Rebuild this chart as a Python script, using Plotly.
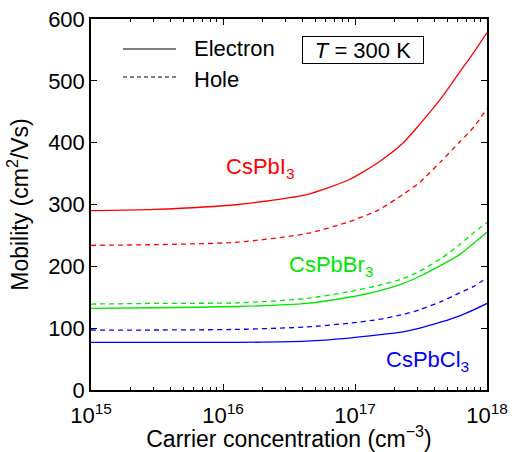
import plotly.graph_objects as go

# Carrier concentration (cm^-3)
conc = [1e15, 3e15, 1.3e16, 4.3e16, 9e16, 1.5e17, 2.3e17, 3.1e17, 4.5e17, 6.2e17, 8e17, 1e18]

# Mobility (cm^2/Vs)
cspbi3_electron = [290, 292, 300, 316, 340, 368, 399, 430, 472, 514, 547, 578]
cspbi3_hole = [234, 235, 239, 253, 272, 291, 316, 336, 370, 401, 426, 455]
cspbbr3_electron = [132, 133, 135, 140, 150, 160, 172, 184, 202, 219, 238, 255]
cspbbr3_hole = [139, 140, 141, 148, 159, 169, 180, 192, 213, 235, 255, 271]
cspbcl3_electron = [77, 77, 77, 79, 84, 89, 94, 100, 110, 120, 130, 140]
cspbcl3_hole = [97, 97, 98, 102, 108, 114, 122, 130, 143, 157, 168, 182]

x_tickvals = [1e15, 1e16, 1e17, 1e18]
x_ticktext = ["10<sup>15</sup>", "10<sup>16</sup>", "10<sup>17</sup>", "10<sup>18</sup>"]
y_tickvals = [0, 100, 200, 300, 400, 500, 600]

RED = "#ff0000"
GREEN = "#00e600"
BLUE = "#0000ff"
DASH = "5px,4px"
FONT = "Liberation Sans, Arial, sans-serif"

series = [
    (cspbi3_electron, RED, "solid"),
    (cspbi3_hole, RED, DASH),
    (cspbbr3_electron, GREEN, "solid"),
    (cspbbr3_hole, GREEN, DASH),
    (cspbcl3_electron, BLUE, "solid"),
    (cspbcl3_hole, BLUE, DASH),
]

fig = go.Figure()
for ys, col, dash in series:
    fig.add_trace(go.Scatter(
        x=conc, y=ys, mode="lines",
        line=dict(color=col, width=1.3, dash=dash, shape="spline", smoothing=0.6),
        showlegend=False, hoverinfo="skip",
    ))

minor_vals = [m * 10 ** e for e in (15, 16, 17) for m in range(2, 10)]

fig.update_xaxes(
    type="log", range=[15, 18], automargin=False,
    tickmode="array", tickvals=x_tickvals, ticktext=x_ticktext,
    ticks="inside", ticklen=6, tickwidth=1, tickcolor="black",
    ticklabelstandoff=5,
    minor=dict(ticks="inside", ticklen=3, tickwidth=1, tickcolor="black",
               tickmode="array", tickvals=minor_vals),
    showline=True, linecolor="black", linewidth=1.5, mirror="allticks",
    showgrid=False, zeroline=False,
    tickfont=dict(family=FONT, size=22, color="black"),
    title=dict(text="Carrier concentration (cm<sup>\u22123</sup>)",
               font=dict(family=FONT, size=23, color="black"), standoff=4),
)
fig.update_yaxes(
    range=[0, 600], tickmode="array", tickvals=y_tickvals, automargin=False,
    ticks="inside", ticklen=6, tickwidth=1, tickcolor="black",
    showline=True, linecolor="black", linewidth=1.5, mirror="allticks",
    showgrid=False, zeroline=False,
    tickfont=dict(family=FONT, size=22, color="black"),
    title=dict(text="Mobility (cm<sup>2</sup>/Vs)",
               font=dict(family=FONT, size=23, color="black"), standoff=13),
)

# Legend lines (decoration) and text; positions relative to plot area
PX0, PY0, PW, PH = 91, 390, 396, 371
fig.add_shape(type="line", xref="paper", yref="paper",
              x0=(123 - PX0) / PW, x1=(176 - PX0) / PW,
              y0=(PY0 - 49) / PH, y1=(PY0 - 49) / PH,
              line=dict(color="black", width=1.2))
fig.add_shape(type="line", xref="paper", yref="paper",
              x0=(123 - PX0) / PW, x1=(176 - PX0) / PW,
              y0=(PY0 - 77) / PH, y1=(PY0 - 77) / PH,
              line=dict(color="black", width=1.2, dash="4px,3px"))

ann_font = dict(family=FONT, size=22, color="black")
fig.add_annotation(xref="paper", yref="paper", x=(192 - PX0) / PW, y=(PY0 - 49) / PH,
                   text="Electron", showarrow=False, xanchor="left", yanchor="middle",
                   font=ann_font)
fig.add_annotation(xref="paper", yref="paper", x=(192 - PX0) / PW, y=(PY0 - 79) / PH,
                   text="Hole", showarrow=False, xanchor="left", yanchor="middle",
                   font=ann_font)
fig.add_annotation(xref="paper", yref="paper", x=(363 - PX0) / PW, y=(PY0 - 50) / PH,
                   text="<i>T</i> = 300 K", showarrow=False, xanchor="center", yanchor="middle",
                   font=ann_font, bordercolor="black", borderwidth=1, borderpad=1,
                   bgcolor="white", width=118, height=24)

fig.add_annotation(xref="paper", yref="paper", x=(260 - PX0) / PW, y=(PY0 - 168) / PH,
                   text="CsPbI<sub>3</sub>", showarrow=False, xanchor="center", yanchor="middle",
                   font=dict(family=FONT, size=22, color=RED))
fig.add_annotation(xref="paper", yref="paper", x=(331 - PX0) / PW, y=(PY0 - 266) / PH,
                   text="CsPbBr<sub>3</sub>", showarrow=False, xanchor="center", yanchor="middle",
                   font=dict(family=FONT, size=22, color=GREEN))
fig.add_annotation(xref="paper", yref="paper", x=(427 - PX0) / PW, y=(PY0 - 361) / PH,
                   text="CsPbCl<sub>3</sub>", showarrow=False, xanchor="center", yanchor="middle",
                   font=dict(family=FONT, size=22, color=BLUE))

fig.update_layout(
    width=512, height=452,
    margin=dict(l=91, r=25, t=19, b=62),
    paper_bgcolor="white", plot_bgcolor="white",
    showlegend=False,
)

# Remove the default 8px page margin so the figure fills the window exactly
fig.write_html(
    "out.html",
    config={"displayModeBar": False},
    post_script="document.body.style.margin='0';document.body.style.overflow='hidden';",
)
